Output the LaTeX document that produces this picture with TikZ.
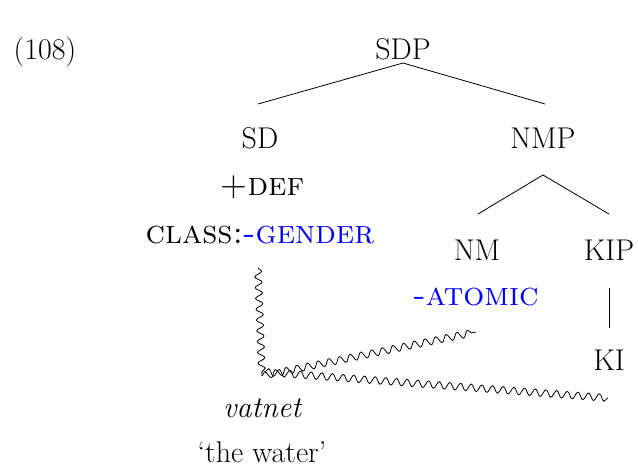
\documentclass[tikz,border=0pt]{standalone}
\usetikzlibrary{decorations.pathmorphing}
\begin{document}
\begin{tikzpicture}[x=1pt,y=-1pt,
  lbl/.style={inner sep=0pt, anchor=base, font=\fontsize{30}{35}\selectfont},
  feat/.style={lbl, font=\fontsize{33}{38}\selectfont\scshape},
  hl/.style={text=blue},
  branch/.style={line width=0.8pt},
  wave/.style={line width=0.8pt, line join=round, decorate,
    decoration={snake, amplitude=3.6pt, segment length=#1}},
  wave/.default=11pt]
\useasboundingbox (0,0) rectangle (638,467);
% example number
\node[lbl] (num) at (45,59) {(108)};
% tree labels
\node[lbl] (sdp) at (403,59) {SDP};
\node[lbl] (sd)  at (260,148) {SD};
\node[lbl] (nmp) at (543,148) {NMP};
\node[feat] (def) at (262,195) {+def};
\node[feat] (cls) at (260,243) {class:\textcolor{blue}{-gender}};
\node[lbl] (nm)  at (477,260) {NM};
\node[lbl] (kip) at (609,260) {KIP};
\node[feat,hl] (atom) at (476,305) {-atomic};
\node[lbl] (ki)  at (609,370) {KI};
\node[lbl,font=\fontsize{30}{35}\selectfont\itshape] (vat) at (262,417) {vatnet};
\node[lbl] (gloss) at (262,462) {`the water'};
% branches
\draw[branch] ([yshift=-4pt]sdp.base) -- ([xshift=-2pt,yshift=44pt]sd.base);
\draw[branch] ([yshift=-4pt]sdp.base) -- ([xshift=2pt,yshift=44pt]nmp.base);
\draw[branch] ([yshift=-27pt]nmp.base) -- ([xshift=1pt,yshift=46pt]nm.base);
\draw[branch] ([yshift=-27pt]nmp.base) -- ([yshift=46pt]kip.base);
\draw[branch] ([yshift=-28pt]kip.base) -- ([yshift=42pt]ki.base);
% wavy links
\coordinate (bend) at (262,376);
\draw[wave=10.8pt] ([xshift=-2pt,yshift=-25pt]cls.base) -- (bend);
\draw[wave=10.9pt] (bend) -- ([yshift=-27pt]atom.base);
\draw[wave=10.7pt] ([xshift=3pt,yshift=4pt]bend) -- ([xshift=-1pt,yshift=-28pt]ki.base);
\end{tikzpicture}
\end{document}
